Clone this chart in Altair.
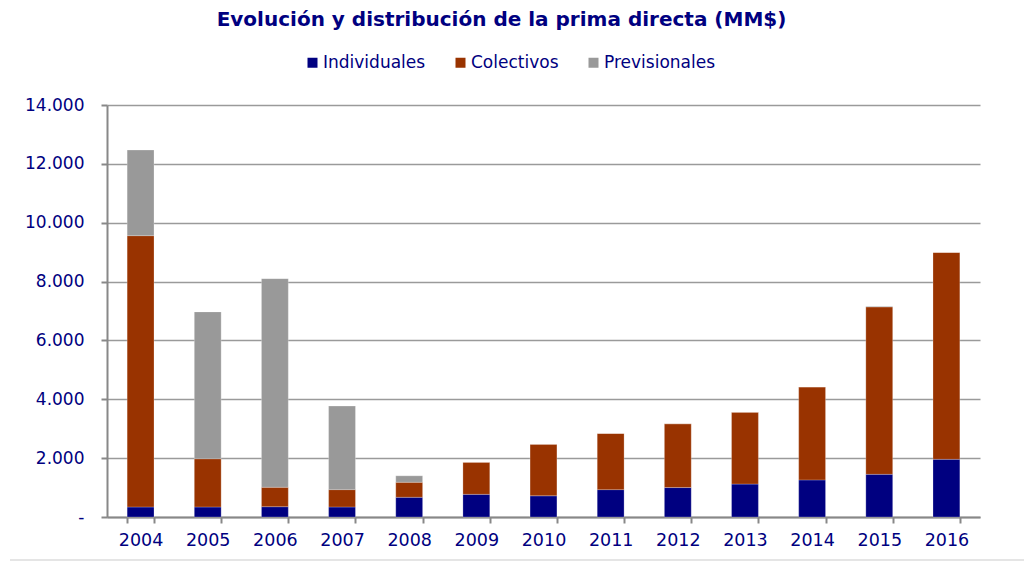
import altair as alt
import pandas as pd

years = ["2004", "2005", "2006", "2007", "2008", "2009", "2010",
         "2011", "2012", "2013", "2014", "2015", "2016"]
individuales = [340, 340, 350, 340, 670, 770, 720, 930, 1000, 1120, 1260, 1450, 1960]
colectivos = [9220, 1640, 660, 590, 510, 1090, 1750, 1910, 2170, 2440, 3160, 5690, 7030]
previsionales = [2910, 4990, 7090, 2840, 220, 0, 0, 0, 0, 0, 0, 20, 0]
series = ["Individuales", "Colectivos", "Previsionales"]
colors = ["#000080", "#993300", "#999999"]
y_ticks = [0, 2000, 4000, 6000, 8000, 10000, 12000, 14000]

rows = []
for i, y in enumerate(years):
    for k, (name, vals) in enumerate(zip(series, [individuales, colectivos, previsionales])):
        rows.append({"Año": y, "Tipo": name, "Orden": k, "Valor": vals[i]})
df = pd.DataFrame(rows)

NAVY = "#000080"
FONT = "DejaVu Sans"

bars = alt.Chart(df).mark_bar(stroke="#ffffff", strokeWidth=0.4, strokeOpacity=0.6).encode(
    x=alt.X("Año:N", sort=years, title=None,
            scale=alt.Scale(paddingInner=0.6, paddingOuter=0.3),
            axis=alt.Axis(labelAngle=0, tickBand="extent", ticks=True, tickSize=6,
                          tickColor="#888888", tickWidth=2, domainColor="#888888",
                          domainWidth=2, labelPadding=8, labelFontSize=17.5,
                          labelColor=NAVY, labelFont=FONT, grid=False)),
    y=alt.Y("Valor:Q", stack="zero", title=None,
            scale=alt.Scale(domain=[0, 14000], nice=False),
            axis=alt.Axis(values=y_ticks, tickSize=6, tickColor="#888888", tickWidth=2,
                          domainColor="#888888", domainWidth=2, labelPadding=17,
                          labelFontSize=17, labelColor=NAVY, labelFont=FONT,
                          gridColor="#9a9a9a", gridWidth=1.6,
                          labelExpr="datum.value == 0 ? '-' : replace(format(datum.value, ','), ',', '.')")),
    color=alt.Color("Tipo:N", sort=series,
                    scale=alt.Scale(domain=series, range=colors),
                    legend=alt.Legend(title=None, orient="none", legendX=197, legendY=-51,
                                      direction="horizontal", symbolType="square",
                                      symbolSize=100, symbolStrokeWidth=0,
                                      labelFontSize=17, labelColor=NAVY, labelFont=FONT,
                                      columnPadding=26, labelOffset=2)),
    order=alt.Order("Orden:Q", sort="ascending"),
)

frame_line = alt.Chart(pd.DataFrame({"a": [0]})).mark_rule(color="#dcdcdc", strokeWidth=1.5).encode(
    x=alt.value(-97), x2=alt.value(917), y=alt.value(455)
)

chart = alt.layer(bars, frame_line).properties(
    width=873, height=412,
    padding={"left": 99, "top": 97, "right": 44, "bottom": 44},
    autosize=alt.AutoSizeParams(type="none"),
    title=alt.TitleParams("Evolución y distribución de la prima directa (MM$)",
                          anchor="middle", frame="group", fontSize=20, fontWeight="bold",
                          color=NAVY, font=FONT, offset=24, dx=-42),
).configure_view(stroke=None)

chart.save("out.html", embed_options={"renderer": "svg", "actions": False})
